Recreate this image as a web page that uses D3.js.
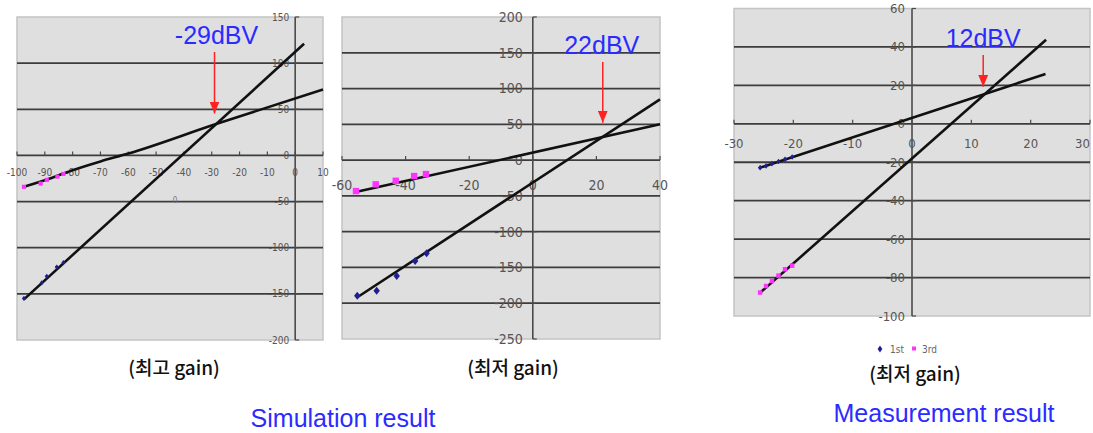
<!DOCTYPE html>
<html>
<head>
<meta charset="utf-8">
<script src="https://cdn.jsdelivr.net/npm/d3@7"></script>
<style>
  html, body { margin: 0; padding: 0; background: #ffffff; }
  svg { display: block; }
  .tick-label { font-family: "Liberation Sans Narrow", "DejaVu Sans Condensed", "Liberation Sans", sans-serif; fill: #555; }
</style>
</head>
<body>
<svg id="chart" width="1093" height="433"></svg>
<script>
// ---- Panel A: simulation, highest gain ----
const simHiXTicks = [-100, -90, -80, -70, -60, -50, -40, -30, -20, -10, 0, 10];
const simHiYTicks = [-200, -150, -100, -50, 0, 50, 100, 150];
const simHiFirstPts = [[-97.5, -155], [-91.1, -138], [-89.3, -131], [-85.7, -121], [-83.3, -116]];
const simHiThirdPts = [[-97.5, -34], [-91.5, -30.5], [-89.3, -26.5], [-85.5, -23], [-83.3, -20]];
const simHiFirstFit = [[-97.5, -156], [3.2, 121]];
const simHiThirdFit = [[-97.5, -34], [-90, -27], [-80, -16], [-70, -6.5], [-60, 2], [-29, 33.5], [10, 71.5]];
const simHiIip3 = -29;
const simHiArrowTip = 33.5;

// ---- Panel B: simulation, lowest gain ----
const simLoXTicks = [-60, -40, -20, 0, 20, 40];
const simLoYTicks = [-250, -200, -150, -100, -50, 0, 50, 100, 150, 200];
const simLoFirstPts = [[-55.2, -189.5], [-49.1, -182.5], [-42.8, -162], [-37, -141], [-33.4, -130.3]];
const simLoThirdPts = [[-55.6, -43.3], [-49.4, -33.9], [-43.1, -28.9], [-37.3, -22.3], [-33.6, -19.5]];
const simLoFirstFit = [[-55.3, -192], [40, 85]];
const simLoThirdFit = [[-55, -44], [40, 50]];
const simLoIip3 = 22;
const simLoArrowTip = 37;

// ---- Panel C: measurement, lowest gain ----
const measXTicks = [-30, -20, -10, 0, 10, 20, 30];
const measYTicks = [-100, -80, -60, -40, -20, 0, 20, 40, 60];
const measFirstPts = [[-25.6, -22.8], [-24.6, -21.9], [-23.6, -20.7], [-22.5, -19.6], [-21.4, -18.5], [-20.2, -17.3]];
const measThirdPts = [[-25.6, -87.8], [-24.6, -84.4], [-23.6, -81.8], [-22.5, -79], [-21.4, -75.7], [-20.2, -73.8]];
const measFirstFit = [[-25.6, -22.8], [22.5, 25.9]];
const measThirdFit = [[-25.7, -88.2], [22.6, 43.7]];
const measIip3 = 12;
const measArrowTip = 13.5;

const legendNames = ["1st", "3rd"];

const BLUE_MARK = "#1f1f8f";
const PINK_MARK = "#ff33ff";
const TEXT_BLUE = "#2b2bff";
const PAGE_W = 1093;

const svg = d3.select("#chart");

const defs = svg.append("defs");
defs.append("marker")
  .attr("id", "redHead")
  .attr("viewBox", "0 0 10 12")
  .attr("refX", 5).attr("refY", 12)
  .attr("markerWidth", 10).attr("markerHeight", 12)
  .attr("markerUnits", "userSpaceOnUse")
  .attr("orient", "0")
  .append("path")
  .attr("d", "M0,0 L10,0 L5,12 Z")
  .attr("fill", "#ff2222");

function drawPanel(cfg) {
  const x = d3.scaleLinear().domain(cfg.xDomain).range([cfg.left, cfg.right]);
  const y = d3.scaleLinear().domain(cfg.yDomain).range([cfg.bottom, cfg.top]);
  const g = svg.append("g");

  // plot area
  g.append("rect")
    .attr("x", cfg.left).attr("y", cfg.top)
    .attr("width", cfg.right - cfg.left).attr("height", cfg.bottom - cfg.top)
    .attr("fill", "#dfdfdf")
    .attr("stroke", "#c4c4c4").attr("stroke-width", 1.5);

  // horizontal gridlines (inner ones) and the x axis at zero
  const inner = cfg.yTicks.filter(v => v > cfg.yDomain[0] && v < cfg.yDomain[1]);
  g.selectAll(".grid").data(inner).join("line")
    .attr("x1", cfg.left).attr("x2", cfg.right)
    .attr("y1", d => y(d)).attr("y2", d => y(d))
    .attr("stroke", "#3c3c3c").attr("stroke-width", 1.8);

  // y axis at x = 0
  g.append("line")
    .attr("x1", x(0)).attr("x2", x(0))
    .attr("y1", cfg.top).attr("y2", cfg.bottom)
    .attr("stroke", "#4a4a4a").attr("stroke-width", 1.6);

  // x tick marks above the zero line
  g.selectAll(".xt").data(cfg.xTicks).join("line")
    .attr("x1", d => x(d)).attr("x2", d => x(d))
    .attr("y1", y(0)).attr("y2", y(0) - 4)
    .attr("stroke", "#4a4a4a").attr("stroke-width", 1.2);

  // y tick marks right of the axis
  g.selectAll(".yt").data(cfg.yTicks).join("line")
    .attr("x1", x(0)).attr("x2", x(0) + 4)
    .attr("y1", d => y(d)).attr("y2", d => y(d))
    .attr("stroke", "#4a4a4a").attr("stroke-width", 1.2);

  // tick labels
  g.selectAll(".yl").data(cfg.yTicks).join("text")
    .attr("class", "tick-label")
    .attr("x", x(0) - cfg.yLabelGap)
    .attr("y", d => y(d))
    .attr("dy", "0.35em")
    .attr("text-anchor", "end")
    .attr("font-size", cfg.labelSize)
    .text(d => d);

  g.selectAll(".xl").data(cfg.xTicks).join("text")
    .attr("class", "tick-label")
    .attr("x", d => Math.min(x(d), PAGE_W - 1))
    .attr("y", y(0) + cfg.xLabelGap)
    .attr("dy", "0.35em")
    .attr("text-anchor", d => x(d) + cfg.labelSize * 0.6 > PAGE_W ? "end" : "middle")
    .attr("font-size", cfg.labelSize)
    .text(d => d);

  // fitted lines
  const line = d3.line().x(d => x(d[0])).y(d => y(d[1])).curve(d3.curveMonotoneX);
  [cfg.firstFit, cfg.thirdFit].forEach(pts => {
    g.append("path")
      .attr("d", line(pts))
      .attr("fill", "none")
      .attr("stroke", "#111")
      .attr("stroke-width", 2.6);
  });

  // data markers
  const ds = cfg.markSize;
  g.selectAll(".dm").data(cfg.diamondPts).join("path")
    .attr("transform", d => `translate(${x(d[0])},${y(d[1])})`)
    .attr("d", `M0,${-ds} L${ds * 0.8},0 L0,${ds} L${-ds * 0.8},0 Z`)
    .attr("fill", BLUE_MARK);
  g.selectAll(".sq").data(cfg.squarePts).join("rect")
    .attr("x", d => x(d[0]) - ds * 0.8).attr("y", d => y(d[1]) - ds * 0.8)
    .attr("width", ds * 1.6).attr("height", ds * 1.6)
    .attr("fill", PINK_MARK);

  // intercept annotation
  const ax = x(cfg.iip3);
  g.append("line")
    .attr("x1", ax).attr("x2", ax)
    .attr("y1", cfg.arrowTop).attr("y2", y(cfg.arrowTip) - 11)
    .attr("stroke", "#ff2222").attr("stroke-width", 1.5)
    .attr("marker-end", "url(#redHead)");
  g.append("text")
    .attr("x", ax + cfg.labelShift).attr("y", cfg.arrowTop - 8)
    .attr("text-anchor", "middle")
    .attr("font-family", "Liberation Sans, Arial, sans-serif")
    .attr("font-size", 25)
    .attr("fill", TEXT_BLUE)
    .text(`${cfg.iip3}dBV`);

  return { x, y, g };
}

const pA = drawPanel({
  left: 17, right: 323, top: 17, bottom: 340,
  xDomain: [-100, 10], yDomain: [-200, 150],
  xTicks: simHiXTicks, yTicks: simHiYTicks,
  firstFit: simHiFirstFit, thirdFit: simHiThirdFit,
  diamondPts: simHiFirstPts, squarePts: simHiThirdPts,
  markSize: 2.6, labelSize: 10, yLabelGap: 6, xLabelGap: 17,
  iip3: simHiIip3, arrowTip: simHiArrowTip, arrowTop: 52, labelShift: 2
});
// stray axis-title placeholder
pA.g.append("text")
  .attr("x", 175).attr("y", 203)
  .attr("text-anchor", "middle")
  .attr("font-family", "DejaVu Sans Condensed, sans-serif")
  .attr("font-size", 8).attr("fill", "#777")
  .text("0");

drawPanel({
  left: 342, right: 660, top: 17, bottom: 339,
  xDomain: [-60, 40], yDomain: [-250, 200],
  xTicks: simLoXTicks, yTicks: simLoYTicks,
  firstFit: simLoFirstFit, thirdFit: simLoThirdFit,
  diamondPts: simLoFirstPts, squarePts: simLoThirdPts,
  markSize: 4, labelSize: 14, yLabelGap: 10, xLabelGap: 25,
  iip3: simLoIip3, arrowTop: 62, arrowTip: simLoArrowTip, labelShift: -1
});

drawPanel({
  left: 734, right: 1090, top: 8.5, bottom: 316,
  xDomain: [-30, 30], yDomain: [-100, 60],
  xTicks: measXTicks, yTicks: measYTicks,
  firstFit: measFirstFit, thirdFit: measThirdFit,
  diamondPts: measFirstPts, squarePts: measThirdPts,
  markSize: 2.8, labelSize: 13, yLabelGap: 7, xLabelGap: 20,
  iip3: measIip3, arrowTop: 55, arrowTip: measArrowTip, labelShift: 0
});

// legend of the measurement panel
const lg = svg.append("g").attr("font-family", "Liberation Sans Narrow, DejaVu Sans Condensed, sans-serif")
  .attr("font-size", 10).attr("fill", "#666");
lg.append("path").attr("d", "M880,345.5 L882.4,349 L880,352.5 L877.6,349 Z").attr("fill", BLUE_MARK);
lg.append("text").attr("x", 890).attr("y", 352.5).text(legendNames[0]);
lg.append("rect").attr("x", 912).attr("y", 346.5).attr("width", 4).attr("height", 4).attr("fill", PINK_MARK);
lg.append("text").attr("x", 922).attr("y", 352.5).text(legendNames[1]);

// captions
const caps = [
  { x: 174, y: 375, t: "(최고 gain)" },
  { x: 513, y: 375, t: "(최저 gain)" },
  { x: 915, y: 381, t: "(최저 gain)" }
];
svg.selectAll(".cap").data(caps).join("text")
  .attr("x", d => d.x).attr("y", d => d.y)
  .attr("text-anchor", "middle")
  .attr("font-family", "Noto Sans CJK KR, sans-serif")
  .attr("font-size", 19).attr("font-weight", 500)
  .attr("fill", "#111")
  .text(d => d.t);

const heads = [
  { x: 343, y: 427, t: "Simulation result" },
  { x: 944, y: 422, t: "Measurement result" }
];
svg.selectAll(".head").data(heads).join("text")
  .attr("x", d => d.x).attr("y", d => d.y)
  .attr("text-anchor", "middle")
  .attr("font-family", "Liberation Sans, Arial, sans-serif")
  .attr("font-size", 25)
  .attr("fill", TEXT_BLUE)
  .text(d => d.t);
</script>
</body>
</html>
